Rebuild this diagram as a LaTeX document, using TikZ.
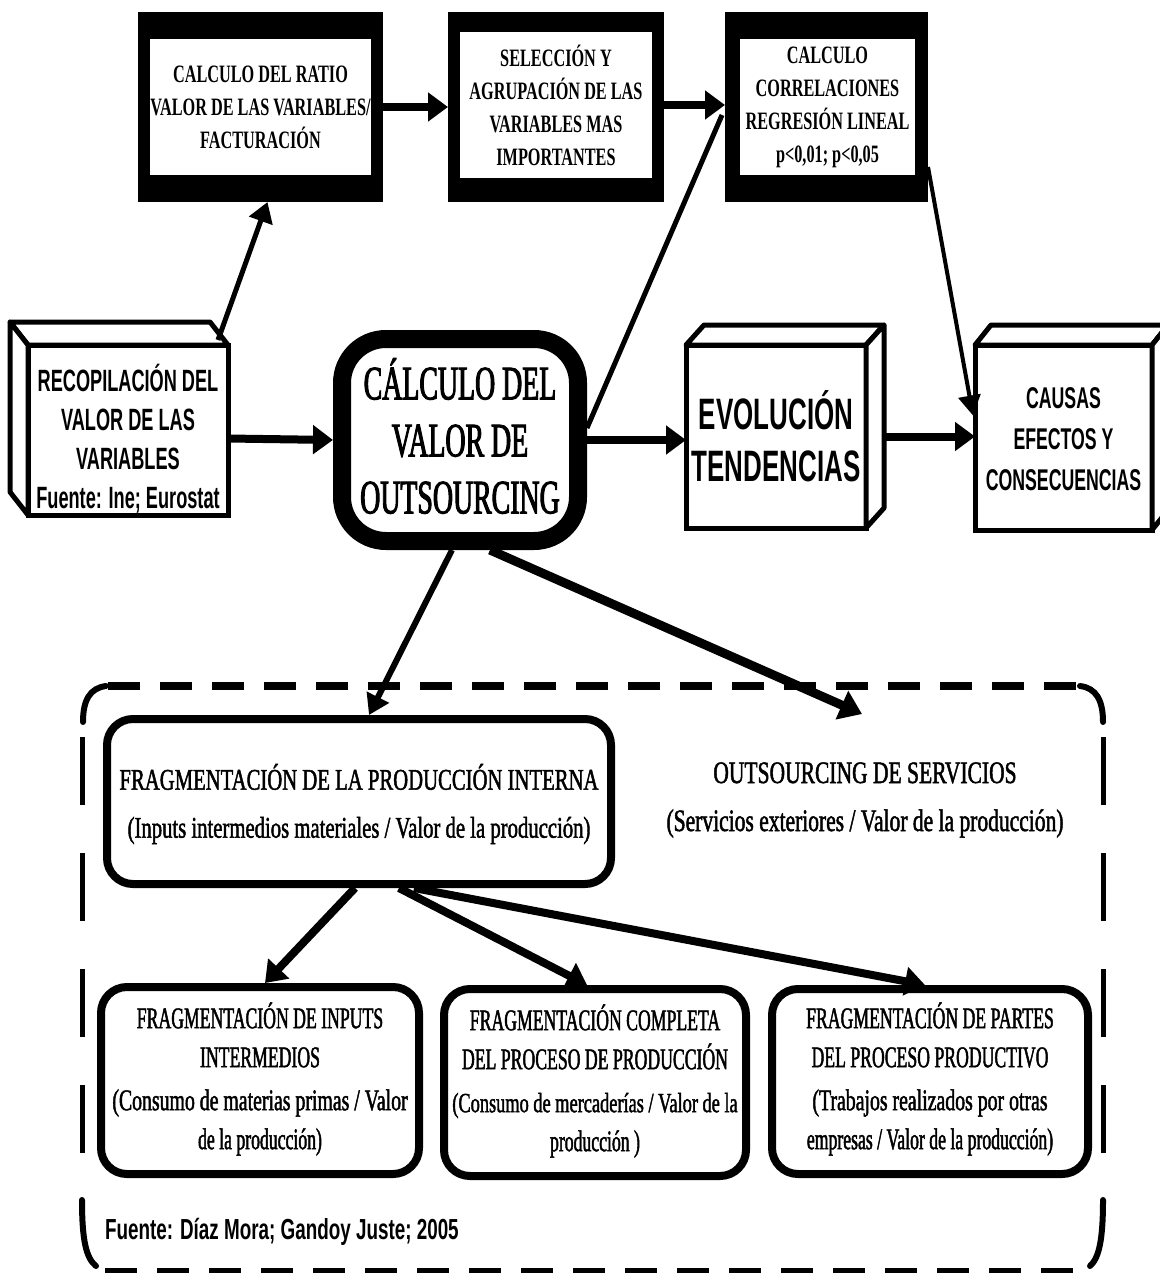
\documentclass[tikz,border=0pt]{standalone}
\usepackage{fontspec}
\setmainfont{Liberation Serif}
\newfontfamily\fTop[FakeStretch=0.65]{Liberation Serif}
\newfontfamily\fBig[FakeStretch=0.58,FakeBold=2]{Liberation Serif}
\newfontfamily\fSerA[FakeStretch=0.69,FakeBold=1.5]{Liberation Serif}
\newfontfamily\fSerC[FakeStretch=0.59,FakeBold=1.5]{Liberation Serif}
\newfontfamily\fSerL[FakeStretch=0.66,FakeBold=1.5]{Liberation Serif}
\newfontfamily\fSan[FakeStretch=0.59]{Liberation Sans}
\newfontfamily\fSrc[FakeStretch=0.65]{Liberation Sans}
\usetikzlibrary{arrows.meta,calc}
\begin{document}
\begin{tikzpicture}[x=0.5pt,y=-0.5pt,
  frameout/.style={fill=black,inner sep=0pt,outer sep=0pt},
  framein/.style={fill=white,inner sep=0pt,outer sep=0pt,align=center,
     font={\fTop\bfseries\fontsize{12.5}{16.5}\selectfont}},
  cubefront/.style={draw,line width=2.5pt,fill=white,inner sep=0pt,outer sep=0pt},
  cubeface/.style={draw,line width=2.5pt,line join=round,fill=white},
  sansbold/.style={align=center,font={\fSan\bfseries\fontsize{15.4}{19.5}\selectfont}},
  bigbox/.style={draw,line width=9pt,rounded corners=22pt,fill=white,inner sep=0pt},
  fragbox/.style={draw,line width=4pt,rounded corners=13pt,fill=white,inner sep=0pt},
  sertext/.style={align=center,font={\fSerC\fontsize{15}{19.5}\selectfont}},
  arr/.style={line width=4pt,-{Triangle[length=10pt,width=14pt]}},
  thinarr/.style={line width=2.5pt,-{Triangle[length=10pt,width=12pt]}},
  dashH/.style={line width=4pt,dash pattern=on 16pt off 10pt},
  dashV/.style={line width=2.5pt,dash pattern=on 34pt off 24pt},
  curvepart/.style={line width=3pt,line cap=round}
]
\useasboundingbox[fill=white] (0,0) rectangle (1160,1273);

% ---- top framed boxes
\node[frameout,minimum width=122.5pt,minimum height=95pt] (ratio) at (260.5,107) {};
\node[framein,minimum width=108.5pt,minimum height=68pt] (ratiotxt) at (260.5,107)
  {CALCULO DEL RATIO\\VALOR DE LAS VARIABLES/\\FACTURACIÓN};
\node[frameout,minimum width=108pt,minimum height=95pt] (sel) at (556,107) {};
\node[framein,minimum width=96pt,minimum height=73pt] (seltxt) at (556,105)
  {SELECCIÓN Y\\AGRUPACIÓN DE LAS\\VARIABLES MAS\\IMPORTANTES};
\node[frameout,minimum width=101.5pt,minimum height=95pt] (corr) at (826.5,107) {};
\node[framein,minimum width=87.5pt,minimum height=68pt] (corrtxt) at (827.5,107)
  {CALCULO\\CORRELACIONES\\REGRESIÓN LINEAL\\p<0,01; p<0,05};

% ---- cubes
\node[cubefront,minimum width=100pt,minimum height=85pt] (recop) at (128,430) {};
\draw[cubeface] (recop.north west) -- ++(-18,-23) -- ++(200,0) -- (recop.north east) -- cycle;
\draw[cubeface] (recop.north west) -- ++(-18,-23) -- ++(0,170) -- (recop.south west) -- cycle;
\node[sansbold] (recoptxt) at (128,438.5)
  {RECOPILACIÓN DEL\\VALOR DE LAS\\VARIABLES\\Fuente: Ine; Eurostat};

\node[cubefront,minimum width=90pt,minimum height=91.5pt] (evol) at (776,436.5) {};
\draw[cubeface] (evol.north west) -- ++(18,-20) -- ++(180,0) -- (evol.north east) -- cycle;
\draw[cubeface] (evol.north east) -- ++(18,-20) -- ++(0,183) -- (evol.south east) -- cycle;
\node[align=center,font={\fSan\bfseries\fontsize{22}{26}\selectfont}] (evoltxt) at (776,436)
  {EVOLUCIÓN\\TENDENCIAS};

\node[cubefront,minimum width=88.5pt,minimum height=92.5pt] (causas) at (1063.5,437.5) {};
\draw[cubeface] (causas.north west) -- ++(16,-20) -- ++(177,0) -- (causas.north east) -- cycle;
\draw[cubeface] (causas.north east) -- ++(16,-20) -- ++(0,185) -- (causas.south east) -- cycle;
\node[align=center,font={\fSan\bfseries\fontsize{15}{20.5}\selectfont}] (causastxt) at (1063.5,439)
  {CAUSAS\\EFECTOS Y\\CONSECUENCIAS};

% ---- central rounded box
\node[bigbox,minimum width=118pt,minimum height=101pt] (calc) at (460,440) {};
\node[align=center,font={\fBig\fontsize{24}{28.5}\selectfont}] (calctxt) at (460,436)
  {CÁLCULO DEL\\VALOR DE\\OUTSOURCING};

% ---- dashed container
\draw[dashH] (108,686) -- (1078,686);
\draw[curvepart] (83,722) .. controls (83,700) and (90,688) .. (106,686);
\draw[curvepart] (1080,686) .. controls (1096,688) and (1103,700) .. (1103,722);
\draw[dashV] (82,737) -- (82,1195);
\draw[dashV] (1103,737) -- (1103,1195);
\draw[curvepart] (82,1200) .. controls (82,1240) and (86,1258) .. (96,1266);
\draw[curvepart] (1103,1200) .. controls (1103,1240) and (1099,1258) .. (1090,1266);
\draw[dashH] (105,1272) -- (1085,1272);

% ---- fragmentation boxes
\node[fragbox,minimum width=252pt,minimum height=82.5pt] (frag) at (359,801.5) {};
\node[align=center,font={\fSerA\fontsize{15}{24}\selectfont}] (fragtxt) at (359,804)
  {FRAGMENTACIÓN DE LA PRODUCCIÓN INTERNA\\(Inputs intermedios materiales / Valor de la producción)};
\node[align=center,font={\fSerA\fontsize{15.6}{24}\selectfont}] (serv) at (865,800)
  {OUTSOURCING DE SERVICIOS\\(Servicios exteriores / Valor de la producción)};
\coordinate (servtip) at (862,714);

\node[fragbox,minimum width=159pt,minimum height=93.5pt] (b1) at (260,1080.5) {};
\node[sertext] (b1txt) at (260,1079)
  {FRAGMENTACIÓN DE INPUTS\\INTERMEDIOS\\[2pt]\fSerL(Consumo de materias primas / Valor\\de la producción)};
\node[fragbox,minimum width=151pt,minimum height=93.5pt] (b2) at (595,1082.5) {};
\node[sertext] (b2txt) at (595,1081)
  {FRAGMENTACIÓN COMPLETA\\DEL PROCESO DE PRODUCCIÓN\\[2pt]\fSerL\fontsize{13.9}{19.5}\selectfont(Consumo de mercaderías / Valor de la\\producción )};
\node[fragbox,minimum width=158pt,minimum height=92.5pt] (b3) at (930,1081.5) {};
\node[sertext] (b3txt) at (930,1079)
  {FRAGMENTACIÓN DE PARTES\\DEL PROCESO PRODUCTIVO\\[2pt]\fSerL(Trabajos realizados por otras\\empresas / Valor de la producción)};

\node[anchor=west,font={\fSrc\bfseries\fontsize{14.5}{17}\selectfont}] (fuente) at (98,1232)
  {Fuente: Díaz Mora; Gandoy Juste; 2005};

% ---- connectors
\draw[arr] (ratio.east) -- (sel.west);
\draw[arr] ($(sel.east)+(0,-2)$) -- ($(corr.west)+(0,-2)$);
\draw[thinarr] ($(recop.north east)+(-10,-5)$) -- ($(ratio.south)+(7,0)$);
\draw[line width=2.5pt] ($(calc.east)+(0,-12)$) -- ($(corr.west)+(-3,8)$);
\draw[line width=2pt,-{Triangle[length=10pt,width=11pt]}] ($(corr.east)+(0,60)$) -- ($(causas.west)+(-2,-22)$);
\draw[arr] (recoptxt.east -| recop.east) -- (calc.west);
\draw[arr] (calc.east) -- (calc.east -| evol.west);
\draw[arr] ($(evol.east)+(18,0)$) -- (evol.east -| causas.west);
\draw[thinarr,line width=3pt] ($(calc.south)+(-8,0)$) -- ($(frag.north)+(10,0)$);
\draw[line width=4.5pt,-{Triangle[length=11pt,width=15pt]}] ($(calc.south)+(30,0)$) -- (servtip);
\draw[arr] ($(frag.south)+(-4,0)$) -- ($(b1.north)+(5,0)$);
\draw[arr] ($(frag.south)+(40,0)$) -- ($(b2.north)+(-8,0)$);
\draw[arr] ($(frag.south)+(55,0)$) -- ($(b3.north)+(-5,0)$);
\end{tikzpicture}
\end{document}
